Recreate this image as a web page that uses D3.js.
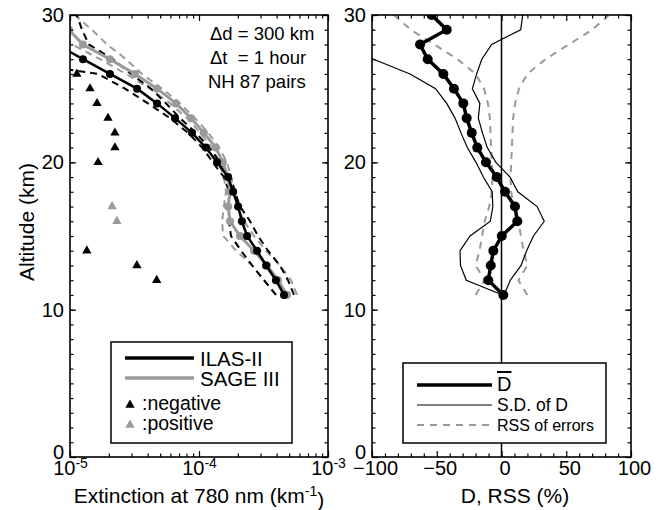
<!DOCTYPE html>
<html>
<head>
<meta charset="utf-8">
<script src="https://cdn.jsdelivr.net/npm/d3@7"></script>
<style>
  body { margin: 0; background: #fff; }
  svg { font-family: "Liberation Sans", Arial, sans-serif; }
</style>
</head>
<body>
<svg id="chart" width="663" height="510"></svg>
<script>
// altitude levels (km), shared by every profile
const alt = [11, 12, 13, 14, 15, 16, 17, 18, 19, 20, 21, 22, 23, 24, 25, 26, 27, 28, 29, 30];

// extinction at 780 nm (km^-1)
const ilas   = [4.56e-4, 3.95e-4, 3.31e-4, 2.82e-4, 2.36e-4, 2.15e-4, 2.01e-4, 1.84e-4, 1.68e-4, 1.38e-4,
                1.13e-4, 8.83e-5, 6.52e-5, 4.73e-5, 3.31e-5, 2.04e-5, 1.26e-5, 7.9e-6, null, null];
const ilasLo = [3.95e-4, 3.19e-4, 2.58e-4, 2.12e-4, 1.77e-4, 1.71e-4, 1.71e-4, 1.71e-4, 1.56e-4, 1.28e-4,
                1.06e-4, 8.22e-5, 5.96e-5, 4.02e-5, 2.67e-5, 1.65e-5, 2.9e-6, null, null, null];
const ilasHi = [5.45e-4, 4.90e-4, 4.24e-4, 3.43e-4, 2.87e-4, 2.49e-4, 2.08e-4, 1.90e-4, 1.77e-4, 1.46e-4,
                1.20e-4, 9.48e-5, 7.13e-5, 5.55e-5, 4.25e-5, 2.97e-5, 2.15e-5, 1.40e-5, 1.24e-5, 1.13e-5];
const sage   = [4.81e-4, 4.10e-4, 3.37e-4, 2.67e-4, 2.08e-4, 1.74e-4, 1.68e-4, 1.74e-4, 1.68e-4, 1.53e-4,
                1.35e-4, 1.09e-4, 8.67e-5, 6.63e-5, 4.73e-5, 3.19e-5, 2.04e-5, 1.26e-5, 9.8e-6, null];
const sageLo = [3.95e-4, 3.19e-4, 2.58e-4, 1.94e-4, 1.54e-4, 1.51e-4, 1.56e-4, 1.62e-4, 1.56e-4, 1.43e-4,
                1.26e-4, 1.02e-4, 8.07e-5, 5.96e-5, 4.17e-5, 2.72e-5, 1.71e-5, 1.04e-5, 8.1e-6, null];
const sageHi = [5.75e-4, 5.17e-4, 4.24e-4, 3.31e-4, 2.67e-4, 2.23e-4, 2.00e-4, 1.87e-4, 1.77e-4, 1.65e-4,
                1.43e-4, 1.18e-4, 9.31e-5, 7.13e-5, 5.17e-5, 3.61e-5, 2.72e-5, 1.94e-5, 1.48e-5, 1.09e-5];

// |D| markers
const negAlt = [26, 25, 24, 23, 22, 21, 20, 14, 13, 12];
const negVal = [1.13e-5, 1.43e-5, 1.62e-5, 1.97e-5, 2.23e-5, 2.23e-5, 1.65e-5, 1.35e-5, 3.3e-5, 4.7e-5];
const posAlt = [17, 16];
const posVal = [2.12e-5, 2.31e-5];

// relative difference (%)
const dMean = [1.4, -10.2, -8.3, -6.3, 0.2, 12.2, 10.4, 2.7, -3.7, -12, -18.7, -23, -26.9, -29.5, -36.7,
               -44.9, -57, -62.9, -42.3, -54];
const dSd   = [0.5, 17, 23.4, 25.7, 24.5, 20.8, 17.1, 9.9, 10.3, 7.7, 7.7, 8.3, 9, 12.8, 14.2,
               25.7, 41.8, 55.3, 57.1, 70.4];
const rss   = [20, 13, 20, 17, 15, 13, 9.5, 7.5, 7, 7.5, 8, 8.5, 9, 10.5, 13.5, 20, 34, 52, 70, 83];

const yTicks = [0, 10, 20, 30];
const xLogTicks = [1e-5, 1e-4, 1e-3];
const xLinTicks = [-100, -50, 0, 50, 100];

const GRAY = "#9a9a9a";
const svg = d3.select("#chart");
const yTop = 15, yBot = 457;

const y = d3.scaleLinear().domain([0, 30]).range([yBot, yTop]);
const xL = d3.scaleLog().domain([1e-5, 1e-3]).range([70, 328]);
const xR = d3.scaleLinear().domain([-100, 100]).range([372, 631]);

const defs = svg.append("defs");
function clip(id, x) {
  defs.append("clipPath").attr("id", id)
    .append("rect").attr("x", x.range()[0]).attr("y", yTop)
    .attr("width", x.range()[1] - x.range()[0]).attr("height", yBot - yTop);
}
clip("clipL", xL);
clip("clipR", xR);

function axes(x, minorX, tickLabel) {
  const x0 = x.range()[0], x1 = x.range()[1];
  const yMinor = d3.range(0, 31);
  const add = (axis, tr) => {
    const g = svg.append("g").attr("transform", tr).call(axis);
    g.select(".domain").remove();
    g.selectAll("line").attr("stroke", "#000").attr("stroke-width", 1.2);
    g.selectAll("text").attr("font-size", 20).attr("fill", "#000");
    return g;
  };
  add(d3.axisBottom(x).tickValues(minorX).tickSize(-3.5).tickFormat(""), `translate(0,${yBot})`);
  add(d3.axisTop(x).tickValues(minorX).tickSize(-3.5).tickFormat(""), `translate(0,${yTop})`);
  add(d3.axisTop(x).tickValues(tickLabel.values).tickSize(-6).tickFormat(""), `translate(0,${yTop})`);
  const gb = add(d3.axisBottom(x).tickValues(tickLabel.values).tickSize(-6).tickPadding(4), `translate(0,${yBot})`);
  tickLabel.format(gb.selectAll(".tick text"));
  add(d3.axisLeft(y).tickValues(yMinor).tickSize(-3.5).tickFormat(""), `translate(${x0},0)`);
  add(d3.axisRight(y).tickValues(yMinor).tickSize(-3.5).tickFormat(""), `translate(${x1},0)`);
  add(d3.axisRight(y).tickValues(yTicks).tickSize(-6).tickFormat(""), `translate(${x1},0)`);
  const gy = add(d3.axisLeft(y).tickValues(yTicks).tickSize(-6).tickPadding(6), `translate(${x0},0)`);
  // bottom label sits a little higher, as in the original
  gy.selectAll(".tick text").filter(d => d === 0).attr("y", -5);
  svg.append("rect").attr("x", x0).attr("y", yTop).attr("width", x1 - x0).attr("height", yBot - yTop)
    .attr("fill", "none").attr("stroke", "#000").attr("stroke-width", 1.6);
}

// ---------- left panel ----------
const gl = svg.append("g").attr("clip-path", "url(#clipL)");
const lineL = vals => d3.line().defined((d, i) => vals[i] != null)
  .x((d, i) => xL(vals[i])).y(d => y(d))(alt);

[[sageLo, GRAY], [sageHi, GRAY], [ilasLo, "#000"], [ilasHi, "#000"]].forEach(([v, c]) => {
  gl.append("path").attr("d", lineL(v)).attr("fill", "none").attr("stroke", c)
    .attr("stroke-width", 2).attr("stroke-dasharray", "7,5");
});
gl.append("path").attr("d", lineL(sage)).attr("fill", "none").attr("stroke", GRAY).attr("stroke-width", 3);
gl.selectAll(".sdot").data(alt.filter((a, i) => sage[i] != null)).enter().append("circle")
  .attr("cx", a => xL(sage[alt.indexOf(a)])).attr("cy", a => y(a)).attr("r", 4).attr("fill", GRAY);
gl.append("path").attr("d", lineL(ilas)).attr("fill", "none").attr("stroke", "#000").attr("stroke-width", 2.5);
gl.selectAll(".idot").data(alt.filter((a, i) => ilas[i] != null)).enter().append("circle")
  .attr("cx", a => xL(ilas[alt.indexOf(a)])).attr("cy", a => y(a)).attr("r", 4).attr("fill", "#000");

const tri = d3.symbol(d3.symbolTriangle).size(38);
gl.selectAll(".neg").data(negAlt).enter().append("path").attr("d", tri)
  .attr("transform", (a, i) => `translate(${xL(negVal[i])},${y(a)})`).attr("fill", "#000");
gl.selectAll(".pos").data(posAlt).enter().append("path").attr("d", tri)
  .attr("transform", (a, i) => `translate(${xL(posVal[i])},${y(a)})`).attr("fill", GRAY);

const minorLog = [];
[1e-5, 1e-4].forEach(b => { for (let k = 2; k <= 9; k++) minorLog.push(b * k); });
axes(xL, minorLog, {
  values: xLogTicks,
  format: sel => sel.each(function (d) {
    const t = d3.select(this).text("");
    t.append("tspan").text("10");
    t.append("tspan").attr("dy", "-0.55em").attr("font-size", 14).text(Math.round(Math.log10(d)));
  })
});

// annotations
const ann = svg.append("g").attr("font-size", 18.5);
ann.append("text").attr("x", 210).attr("y", 40).text("\u0394d = 300 km");
ann.append("text").attr("x", 210).attr("y", 64).attr("xml:space", "preserve").text("\u0394t  = 1 hour");
ann.append("text").attr("x", 208).attr("y", 88).text("NH 87 pairs");

// legend left
const lg = svg.append("g");
lg.append("rect").attr("x", 111).attr("y", 342).attr("width", 181).attr("height", 101)
  .attr("fill", "#fff").attr("stroke", "#000").attr("stroke-width", 1.5);
lg.append("line").attr("x1", 125).attr("x2", 194).attr("y1", 358).attr("y2", 358).attr("stroke", "#000").attr("stroke-width", 3.5);
lg.append("line").attr("x1", 125).attr("x2", 194).attr("y1", 378).attr("y2", 378).attr("stroke", GRAY).attr("stroke-width", 3.5);
lg.append("path").attr("d", tri).attr("transform", "translate(130,405)").attr("fill", "#000");
lg.append("path").attr("d", tri).attr("transform", "translate(130,425)").attr("fill", GRAY);
[["ILAS-II", 200, 365.5, 20.5], ["SAGE III", 200, 385.5, 20.5], [":negative", 142, 410, 19.5], [":positive", 142, 430, 19.5]]
  .forEach(([s, x, yy, fs]) => lg.append("text").attr("x", x).attr("y", yy).attr("font-size", fs).text(s));

// x title left
svg.append("text").attr("x", 199).attr("y", 503).attr("text-anchor", "middle").attr("font-size", 21)
  .call(t => {
    t.append("tspan").text("Extinction at 780 nm (km");
    t.append("tspan").attr("dy", "-0.5em").attr("font-size", 14).text("-1");
    t.append("tspan").attr("dy", "0.5em").text(")");
  });
svg.append("text").attr("transform", "translate(34,222) rotate(-90)").attr("text-anchor", "middle")
  .attr("font-size", 21).text("Altitude (km)");

// ---------- right panel ----------
const gr = svg.append("g").attr("clip-path", "url(#clipR)");
gr.append("line").attr("x1", xR(0)).attr("x2", xR(0)).attr("y1", yTop).attr("y2", yBot)
  .attr("stroke", "#000").attr("stroke-width", 1.5);
const lineR = f => d3.line().x((d, i) => xR(f(i))).y(d => y(d))(alt);
gr.append("path").attr("d", lineR(i => -rss[i])).attr("fill", "none").attr("stroke", GRAY).attr("stroke-width", 2).attr("stroke-dasharray", "7,6");
gr.append("path").attr("d", lineR(i => rss[i])).attr("fill", "none").attr("stroke", GRAY).attr("stroke-width", 2).attr("stroke-dasharray", "7,6");
gr.append("path").attr("d", lineR(i => dMean[i] - dSd[i])).attr("fill", "none").attr("stroke", "#000").attr("stroke-width", 1.2);
gr.append("path").attr("d", lineR(i => dMean[i] + dSd[i])).attr("fill", "none").attr("stroke", "#000").attr("stroke-width", 1.2);
gr.append("path").attr("d", lineR(i => dMean[i])).attr("fill", "none").attr("stroke", "#000").attr("stroke-width", 3.5);
gr.selectAll(".ddot").data(alt).enter().append("circle")
  .attr("cx", (a, i) => xR(dMean[i])).attr("cy", a => y(a)).attr("r", 5).attr("fill", "#000");

const minorLin = d3.range(-90, 100, 10).filter(v => v % 50 !== 0);
axes(xR, minorLin, { values: xLinTicks, format: sel => sel.attr("dx", 3) });

// legend right
const lr = svg.append("g");
lr.append("rect").attr("x", 403).attr("y", 363).attr("width", 203).attr("height", 80)
  .attr("fill", "#fff").attr("stroke", "#000").attr("stroke-width", 1.5);
lr.append("line").attr("x1", 417).attr("x2", 492).attr("y1", 385).attr("y2", 385).attr("stroke", "#000").attr("stroke-width", 3.5);
lr.append("line").attr("x1", 417).attr("x2", 492).attr("y1", 405).attr("y2", 405).attr("stroke", "#000").attr("stroke-width", 1.2);
lr.append("line").attr("x1", 417).attr("x2", 492).attr("y1", 425).attr("y2", 425).attr("stroke", GRAY).attr("stroke-width", 2).attr("stroke-dasharray", "7,6");
lr.append("text").attr("x", 497).attr("y", 391).attr("font-size", 20).style("text-decoration", "overline").text("D");
lr.append("text").attr("x", 497).attr("y", 411).attr("font-size", 17.5).text("S.D. of D");
lr.append("text").attr("x", 497).attr("y", 431).attr("font-size", 16).text("RSS of errors");

svg.append("text").attr("x", 515).attr("y", 503).attr("text-anchor", "middle").attr("font-size", 21).text("D, RSS (%)");
</script>
</body>
</html>
